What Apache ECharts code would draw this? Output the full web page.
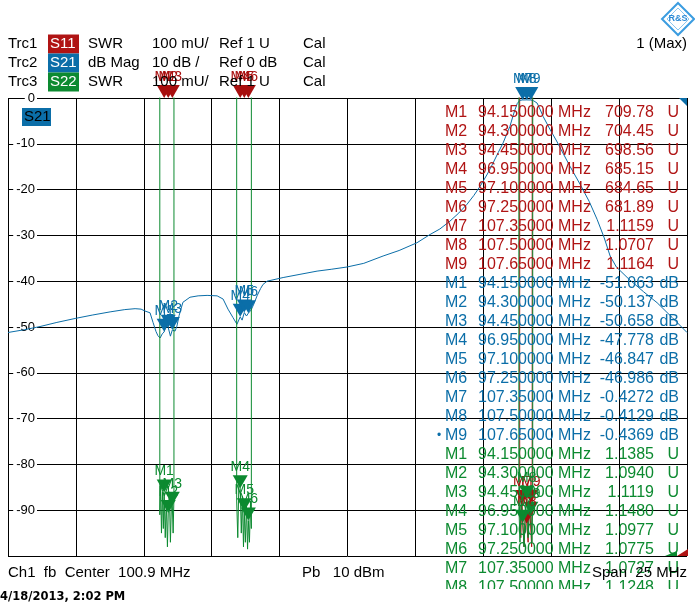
<!DOCTYPE html>
<html><head><meta charset="utf-8">
<script src="https://cdn.jsdelivr.net/npm/echarts@6/dist/echarts.min.js"></script>
<style>html,body{margin:0;padding:0;background:#fff}#c{width:695px;height:613px}</style>
</head><body><div id="c"></div>
<script>
// ---------- data ----------
const centerMHz = 100.9;
const spanMHz = 25;
const dbRef = 0, dbPerDiv = 10, divisions = 10;
const swrRef = 1, swrPerDiv = 0.1;

const markerNames = ['M1','M2','M3','M4','M5','M6','M7','M8','M9'];
const markerFreqs = [94.15, 94.30, 94.45, 96.95, 97.10, 97.25, 107.35, 107.50, 107.65];
const s11Vals = [709.78, 704.45, 698.56, 685.15, 684.65, 681.89, 1.1159, 1.0707, 1.1164];
const s21Vals = [-51.063, -50.137, -50.658, -47.778, -46.847, -46.986, -0.4272, -0.4129, -0.4369];
const s22Vals = [1.1385, 1.0940, 1.1119, 1.1480, 1.0977, 1.0775, 1.0727, 1.1248, 1.0900];

const s21Freq = [88.40,89.00,89.58,90.20,90.90,91.50,92.16,92.70,93.08,93.30,93.44,93.63,93.74,93.85,93.92,94.00,94.08,94.15,94.22,94.30,94.38,94.45,94.55,94.62,94.70,94.84,95.10,95.40,95.73,96.10,96.32,96.50,96.68,96.83,96.95,97.02,97.10,97.18,97.25,97.35,97.45,97.57,97.70,97.79,97.94,98.53,99.15,99.78,100.30,100.88,101.50,102.21,102.80,103.46,103.94,104.30,104.67,105.00,105.30,105.55,105.78,106.05,106.26,106.45,106.63,106.78,106.88,107.00,107.07,107.15,107.25,107.35,107.50,107.65,107.75,107.88,108.00,108.10,108.36,108.60,108.83,109.10,109.46,109.80,110.09,110.35,110.57,110.80,111.27,111.80,112.30,112.85,113.40];
const s21Db = [-51.2,-50.6,-49.9,-49.0,-48.1,-47.4,-46.7,-46.2,-46.0,-46.1,-46.5,-46.9,-49.0,-51.0,-51.9,-52.4,-51.5,-51.063,-49.6,-50.137,-52.0,-50.658,-50.9,-49.8,-47.5,-44.6,-43.5,-43.2,-43.1,-43.2,-43.9,-46.1,-47.9,-49.4,-47.778,-48.5,-46.847,-47.6,-46.986,-46.3,-45.0,-43.2,-41.6,-40.7,-40.0,-39.2,-38.5,-37.8,-37.4,-36.9,-36.1,-34.5,-33.3,-31.6,-29.8,-28.6,-26.9,-25.1,-23.2,-21.3,-19.3,-16.6,-14.2,-11.9,-9.8,-7.6,-6.2,-3.8,-2.5,-1.2,-0.5,-0.4272,-0.4129,-0.4369,-0.6,-1.1,-2.6,-4.0,-6.9,-9.4,-12.0,-15.0,-18.8,-22.6,-26.5,-30.5,-34.5,-36.9,-39.6,-42.3,-44.7,-47.9,-51.2];

const s11Freq = [88.40,94.15,94.30,94.45,96.95,97.10,97.25,107.22,107.24,107.28,107.32,107.35,107.40,107.45,107.50,107.55,107.60,107.65,107.68,107.70,107.71,113.40];
const s11Swr  = [40,709.78,704.45,698.56,685.15,684.65,681.89,40,1.13,1.04,1.12,1.1159,1.02,1.09,1.0707,1.03,1.12,1.1164,1.02,1.14,40,40];

const s22Freq = [88.40,93.97,93.99,94.02,94.05,94.09,94.12,94.15,94.19,94.23,94.27,94.30,94.34,94.38,94.42,94.45,94.48,94.51,94.53,
                 96.80,96.82,96.86,96.90,96.95,96.99,97.03,97.07,97.10,97.14,97.18,97.22,97.25,97.29,97.33,97.36,97.38,
                 107.19,107.21,107.25,107.30,107.35,107.40,107.45,107.50,107.55,107.60,107.65,107.69,107.72,107.74,113.40];
const s22Swr  = [40,40,1.09,1.16,1.05,1.14,1.06,1.1385,1.04,1.12,1.02,1.094,1.14,1.03,1.12,1.1119,1.05,1.13,40,
                 40,1.12,1.04,1.16,1.148,1.05,1.13,1.02,1.0977,1.03,1.11,1.015,1.0775,1.03,1.12,1.06,40,
                 40,1.11,1.03,1.12,1.0727,1.02,1.10,1.1248,1.04,1.11,1.09,1.03,1.12,40,40];

const traceRows = [
  ['Trc1','S11','SWR','100 mU/','Ref 1 U','Cal'],
  ['Trc2','S21','dB Mag','10 dB /','Ref 0 dB','Cal'],
  ['Trc3','S22','SWR','100 mU/','Ref 1 U','Cal']
];
const footerLeft = 'Ch1  fb  Center  ' + centerMHz + ' MHz';
const footerMid = 'Pb   10 dBm';
const footerRight = 'Span  ' + spanMHz + ' MHz';
const dateText = '4/18/2013, 2:02 PM';

// ---------- style ----------
const RED = '#b01414', BLUE = '#0b6ea8', GREEN = '#0c8a30';
const traceColors = [RED, BLUE, GREEN];
const FF = '"Liberation Sans", Arial, sans-serif';
const G = {left: 8, top: 98, width: 679, height: 458};

const fMin = centerMHz - spanMHz / 2, fMax = centerMHz + spanMHz / 2;
const dbMin = dbRef - dbPerDiv * divisions;
const swrMax = swrRef + swrPerDiv * divisions;

const zip = (a, b) => a.map((v, i) => [v, b[i]]);

function markerSeries(vals, color, yIdx, clampMax) {
  return {
    type: 'scatter', xAxisIndex: 1, yAxisIndex: yIdx, clip: false, z: 10,
    symbol: 'triangle', symbolRotate: 180, symbolSize: [15, 13], symbolOffset: [0, -6.5],
    itemStyle: {color: color, opacity: 1, borderWidth: 0},
    label: {show: true, position: 'top', distance: 1, color: color,
            fontSize: 14, fontFamily: FF, formatter: p => p.data[2]},
    emphasis: {disabled: true},
    data: markerFreqs.map((f, i) => [f, clampMax == null ? vals[i] : Math.min(vals[i], clampMax), markerNames[i]])
  };
}

function txt(x, y, text, color, size, align, weight, z) {
  return {type: 'text', x: x, y: y, z: z || 20, silent: true,
    style: {text: text, fill: color, font: (weight || 'normal') + ' ' + size + 'px ' + FF,
            align: align || 'left', verticalAlign: 'middle',
            textAlign: align || 'left', textVerticalAlign: 'middle'}};
}

const graphics = [];
// header rows
traceRows.forEach((r, i) => {
  const y = 44 + i * 19;
  graphics.push(txt(8, y, r[0], '#000', 15));
  graphics.push({type: 'rect', x: 48, y: y - 9.5, z: 19, shape: {width: 31, height: 19}, style: {fill: traceColors[i]}});
  graphics.push(txt(50, y, r[1], '#fff', 15));
  graphics.push(txt(88, y, r[2], '#000', 15));
  graphics.push(txt(152, y, r[3], '#000', 15));
  graphics.push(txt(219, y, r[4], '#000', 15));
  graphics.push(txt(303, y, r[5], '#000', 15));
});
graphics.push(txt(687, 44, '1 (Max)', '#000', 15, 'right'));
// logo
graphics.push({type: 'polygon', z: 20, shape: {points: [[678, 3], [694, 19], [678, 35], [662, 19]]},
  style: {fill: '#fff', stroke: '#3b9ce0', lineWidth: 2}});
graphics.push({type: 'polygon', z: 20, shape: {points: [[678, 8], [689, 19], [678, 30], [667, 19]]},
  style: {fill: 'none', stroke: '#8cc6ee', lineWidth: 1}});
graphics.push(txt(678, 19, 'R&S', '#2a8ad6', 9, 'center', 'bold'));
// S21 tag inside plot
graphics.push({type: 'rect', x: 22, y: 108, z: 19, shape: {width: 29, height: 18}, style: {fill: BLUE}});
graphics.push(txt(24, 117, 'S21', '#000', 15));
// marker table
const tableVals = [s11Vals, s21Vals, s22Vals];
tableVals.forEach((vals, t) => {
  markerNames.forEach((m, i) => {
    const y = 113 + (t * 9 + i) * 19;
    const c = traceColors[t];
    const f = markerFreqs[i];
    const v = vals[i];
    const isDb = t === 1;
    const vs = isDb ? (Math.abs(v) >= 10 ? v.toFixed(3) : v.toFixed(4)) : (v >= 100 ? v.toFixed(2) : v.toFixed(4));
    graphics.push(txt(445, y, m, c, 16));
    if (t === 1 && i === 8) graphics.push(txt(437, y, '•', c, 12));
    graphics.push(txt(478, y, f.toFixed(f >= 100 ? 5 : 6), c, 16));
    graphics.push(txt(558, y, 'MHz', c, 16));
    graphics.push(txt(654, y, vs, c, 16, 'right'));
    graphics.push(txt(679, y, isDb ? 'dB' : 'U', c, 16, 'right'));
  });
});
// corner flags
graphics.push({type: 'polygon', z: 21, shape: {points: [[679, 98], [687, 98], [687, 106]]}, style: {fill: BLUE}});
graphics.push({type: 'polygon', z: 21, shape: {points: [[665, 556], [677, 556], [677, 551]]}, style: {fill: GREEN}});
graphics.push({type: 'polygon', z: 21, shape: {points: [[677, 556], [688, 556], [688, 549]]}, style: {fill: RED}});
// cover for clipped table
graphics.push({type: 'rect', x: 425, y: 589, z: 30, shape: {width: 270, height: 24}, style: {fill: '#fff'}});
// footer
graphics.push(txt(8, 573, footerLeft, '#000', 15, 'left', 'normal', 31));
graphics.push(txt(302, 573, footerMid, '#000', 15, 'left', 'normal', 31));
graphics.push(txt(687, 573, footerRight, '#000', 15, 'right', 'normal', 31));
graphics.push({type: 'text', x: 0, y: 597, z: 31, style: {text: dateText, fill: '#000',
  font: 'bold 11.5px "DejaVu Sans", Verdana, sans-serif', align: 'left', verticalAlign: 'middle',
  textAlign: 'left', textVerticalAlign: 'middle'}});

const chart = echarts.init(document.getElementById('c'), null, {renderer: 'canvas'});
chart.setOption({
  animation: false,
  backgroundColor: '#fff',
  grid: {left: G.left, top: G.top, width: G.width, height: G.height, containLabel: false, outerBoundsMode: 'none'},
  xAxis: [
    {type: 'value', min: 0, max: divisions, interval: 1, axisLine: {show: false}, axisTick: {show: false},
     axisLabel: {show: false}, splitLine: {show: true, lineStyle: {color: '#000', width: 1}}},
    {type: 'value', min: fMin, max: fMax, show: false, splitLine: {show: false}}
  ],
  yAxis: [
    {type: 'value', min: dbMin, max: dbRef, interval: dbPerDiv, axisLine: {show: false}, axisTick: {show: false},
     splitLine: {show: true, lineStyle: {color: '#000', width: 1}},
     axisLabel: {inside: true, margin: 29, align: 'right', verticalAlign: 'middle', color: '#000', fontSize: 13, fontFamily: FF,
       backgroundColor: '#fff', padding: [0, 2, 0, 3], showMinLabel: true, showMaxLabel: true,
       formatter: v => (v === dbMin ? '' : String(v))}},
    {type: 'value', min: swrRef, max: swrMax, show: false, splitLine: {show: false}}
  ],
  series: [
    {type: 'line', name: 'S11', xAxisIndex: 1, yAxisIndex: 1, data: zip(s11Freq, s11Swr), symbol: 'none', clip: true,
     lineStyle: {color: RED, width: 1}, z: 3, emphasis: {disabled: true}},
    {type: 'line', name: 'S21', xAxisIndex: 1, yAxisIndex: 0, data: zip(s21Freq, s21Db), symbol: 'none', clip: true,
     lineStyle: {color: BLUE, width: 1}, z: 4, emphasis: {disabled: true}},
    {type: 'line', name: 'S22', xAxisIndex: 1, yAxisIndex: 1, data: zip(s22Freq, s22Swr), symbol: 'none', clip: true,
     lineStyle: {color: GREEN, width: 1}, z: 5, emphasis: {disabled: true}},
    markerSeries(s11Vals, '#a80f0f', 1, swrMax),
    markerSeries(s21Vals, BLUE, 0, null),
    markerSeries(s22Vals, GREEN, 1, swrMax)
  ],
  graphic: {elements: graphics}
});
</script>
</body></html>
